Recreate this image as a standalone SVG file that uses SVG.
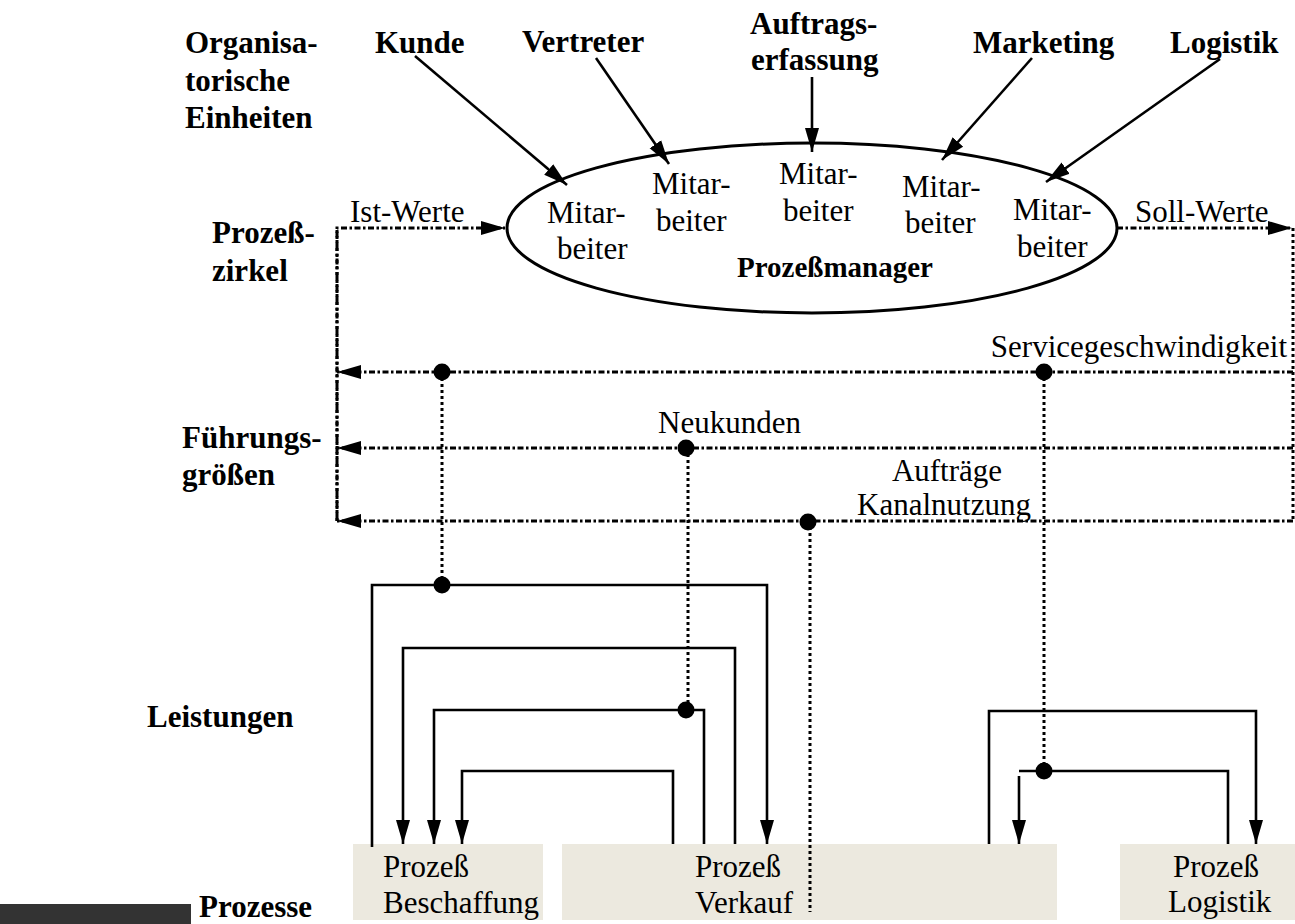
<svg xmlns="http://www.w3.org/2000/svg" width="1295" height="924" viewBox="0 0 1295 924">
<style>
text{font-family:"Liberation Serif","Times New Roman",serif;fill:#000}
.n{font-size:31px}
.b{font-size:31px;font-weight:bold}
.box{fill:#ECE9DF}
.sol{fill:none;stroke:#000;stroke-width:2.6}
.dh{fill:none;stroke:#000;stroke-width:3;stroke-dasharray:6 2.5 2.5 2.5}
.dv{fill:none;stroke:#000;stroke-width:3;stroke-dasharray:3 3}
.dot{fill:#000}
</style>
<defs>
<marker id="ah" markerUnits="userSpaceOnUse" markerWidth="26" markerHeight="16" refX="24" refY="7.5" orient="auto">
<path d="M0,0.5 L24,7.5 L0,14.5 z" fill="#000"/>
</marker>
</defs>
<rect x="0" y="904" width="191" height="20" fill="#333333"/>
<g id="labels">
<text class="b" x="185" y="53">Organisa-</text>
<text class="b" x="185" y="91">torische</text>
<text class="b" x="185" y="128">Einheiten</text>
<text class="b" x="212" y="243">Prozeß-</text>
<text class="b" x="212" y="281">zirkel</text>
<text class="b" x="182" y="448">Führungs-</text>
<text class="b" x="182" y="485">größen</text>
<text class="b" x="147" y="727">Leistungen</text>
<text class="b" x="199" y="917">Prozesse</text>
</g>
<g id="kunde"><text class="b" x="375" y="53">Kunde</text></g>
<g id="vertreter"><text class="b" x="522" y="52">Vertreter</text></g>
<g id="auftragserfassung"><text class="b" x="750" y="34">Auftrags-</text><text class="b" x="751" y="70">erfassung</text></g>
<g id="marketing"><text class="b" x="973" y="53">Marketing</text></g>
<g id="logistik"><text class="b" x="1170" y="53">Logistik</text></g>
<g id="prozessmanager">
<ellipse cx="812" cy="228" rx="305" ry="85" fill="#fff" stroke="#000" stroke-width="3"/>
<text class="n" x="547" y="223">Mitar-</text><text class="n" x="557" y="259">beiter</text>
<text class="n" x="652" y="194">Mitar-</text><text class="n" x="656" y="231">beiter</text>
<text class="n" x="779" y="184">Mitar-</text><text class="n" x="783" y="221">beiter</text>
<text class="n" x="902" y="197">Mitar-</text><text class="n" x="905" y="233">beiter</text>
<text class="n" x="1013" y="220">Mitar-</text><text class="n" x="1017" y="257">beiter</text>
<text class="b" x="737" y="277" style="font-size:29px">Prozeßmanager</text>
</g>
<g id="fuehrungsgroessen">
<text class="n" x="350" y="222">Ist-Werte</text>
<text class="n" x="1135" y="222">Soll-Werte</text>
<text class="n" x="1287" y="357" text-anchor="end">Servicegeschwindigkeit</text>
<text class="n" x="658" y="433">Neukunden</text>
<text class="n" x="947" y="481" text-anchor="middle">Aufträge</text>
<text class="n" x="944" y="515" text-anchor="middle">Kanalnutzung</text>
</g>
<g id="beschaffung"><rect class="box" x="353" y="844" width="190" height="76"/><text class="n" x="383" y="877">Prozeß</text><text class="n" x="383" y="913">Beschaffung</text></g>
<g id="verkauf"><rect class="box" x="562" y="844" width="495" height="76"/><text class="n" x="695" y="877">Prozeß</text><text class="n" x="695" y="913">Verkauf</text></g>
<g id="logistikprozess"><rect class="box" x="1120" y="844" width="175" height="76"/><text class="n" x="1173" y="877">Prozeß</text><text class="n" x="1168" y="912">Logistik</text></g>
<g id="connectors">
<line class="sol" x1="415" y1="56" x2="567" y2="185" marker-end="url(#ah)"/>
<line class="sol" x1="596" y1="58" x2="669" y2="164" marker-end="url(#ah)"/>
<line class="sol" x1="812" y1="77" x2="812" y2="152" marker-end="url(#ah)"/>
<line class="sol" x1="1032" y1="58" x2="942" y2="160" marker-end="url(#ah)"/>
<line class="sol" x1="1220" y1="59" x2="1046" y2="182" marker-end="url(#ah)"/>
<path class="dh" d="M337,521 V228 H505" marker-end="url(#ah)"/>
<path class="dh" d="M1117,228 H1292"/>
<line x1="1268" y1="228" x2="1292" y2="228" stroke="none" marker-end="url(#ah)"/>
<path class="dv" d="M1293,228 V521"/>
<path class="dv" d="M337,230 V521"/>
<line class="dh" x1="1293" y1="372" x2="337" y2="372" marker-end="url(#ah)"/>
<line class="dh" x1="1293" y1="448" x2="337" y2="448" marker-end="url(#ah)"/>
<line class="dh" x1="1293" y1="521" x2="337" y2="521" marker-end="url(#ah)"/>
<line class="dv" x1="442" y1="372" x2="442" y2="585"/>
<line class="dv" x1="688" y1="448" x2="688" y2="710"/>
<line class="dv" x1="1044" y1="372" x2="1044" y2="771"/>
<line class="dv" x1="810" y1="521" x2="810" y2="912"/>
<circle class="dot" cx="442" cy="372" r="8.5"/>
<circle class="dot" cx="1044" cy="372" r="8.5"/>
<circle class="dot" cx="686" cy="448" r="8.5"/>
<circle class="dot" cx="808" cy="522" r="8.5"/>
<path class="sol" d="M372,847 V585 H767 V844" marker-end="url(#ah)"/>
<path class="sol" d="M735,844 V648 H403 V844" marker-end="url(#ah)"/>
<path class="sol" d="M704,844 V710 H434 V844" marker-end="url(#ah)"/>
<path class="sol" d="M673,844 V771 H462 V844" marker-end="url(#ah)"/>
<path class="sol" d="M989,844 V711 H1256 V844" marker-end="url(#ah)"/>
<path class="sol" d="M1228,844 V771 H1019"/>
<line class="sol" x1="1019" y1="776" x2="1019" y2="844" marker-end="url(#ah)"/>
<circle class="dot" cx="442" cy="585" r="8.5"/>
<circle class="dot" cx="686" cy="710" r="8.5"/>
<circle class="dot" cx="1044" cy="771" r="8.5"/>
</g>
</svg>
